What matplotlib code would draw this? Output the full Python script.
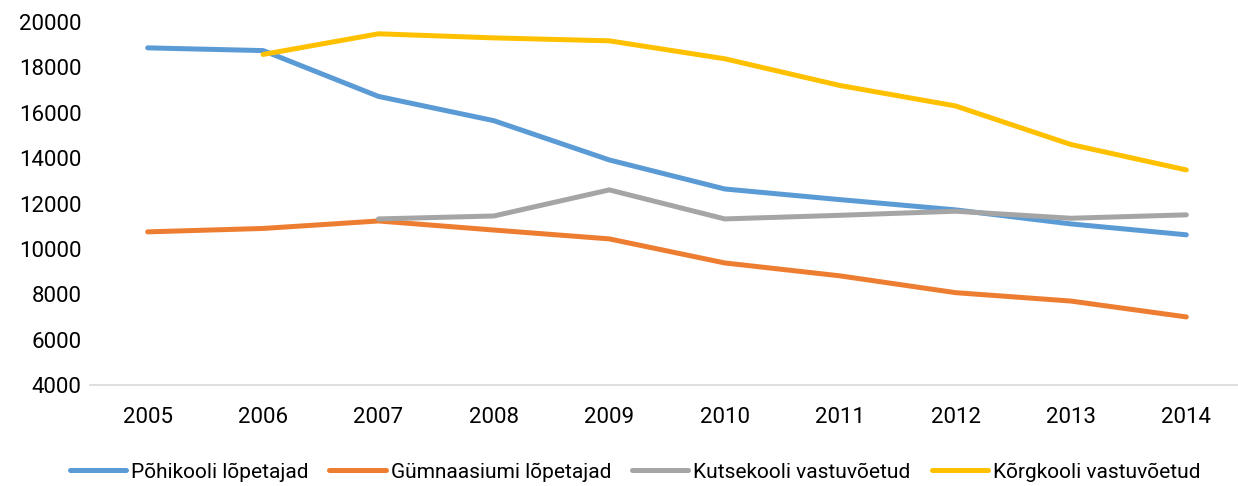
import matplotlib.pyplot as plt
import numpy as np

years = ["2005", "2006", "2007", "2008", "2009", "2010", "2011", "2012", "2013", "2014"]

pohikool = [18860, 18740, 16720, 15650, 13920, 12640, 12170, 11720, 11100, 10620]
gumnaasium = [10750, 10900, 11230, 10830, 10440, 9380, 8810, 8070, 7700, 7000]
kutsekool = [None, None, 11320, 11450, 12600, 11320, 11480, 11660, 11350, 11500]
korgkool = [None, 18570, 19480, 19300, 19170, 18380, 17200, 16300, 14600, 13480]

series_names = [
    "Põhikooli lõpetajad",
    "Gümnaasiumi lõpetajad",
    "Kutsekooli vastuvõetud",
    "Kõrgkooli vastuvõetud",
]
colors = ["#5B9BD5", "#ED7D31", "#A5A5A5", "#FFC000"]

plt.rcParams["font.family"] = ["Roboto", "DejaVu Sans"]

fig = plt.figure(figsize=(12.38, 4.86), dpi=100)
ax = fig.add_axes([90 / 1238, 1 - 385 / 486, 1154 / 1238, (385 - 22) / 486])

x = np.arange(len(years))
for vals, name, col in zip([pohikool, gumnaasium, kutsekool, korgkool], series_names, colors):
    y = np.array([np.nan if v is None else v for v in vals], dtype=float)
    ax.plot(x, y, color=col, linewidth=3.6, solid_capstyle="round", label=name)

ax.set_xlim(-0.5, len(years) - 0.5)
ax.set_ylim(4000, 20000)
ax.set_yticks(np.arange(4000, 20001, 2000))
ax.set_xticks(x)
ax.set_xticklabels(years)

for side in ["top", "right", "left"]:
    ax.spines[side].set_visible(False)
ax.spines["bottom"].set_color("#D9D9D9")
ax.spines["bottom"].set_linewidth(1.2)
ax.tick_params(axis="both", length=0, labelsize=16, colors="black")
ax.tick_params(axis="x", pad=16)
ax.tick_params(axis="y", pad=6)

ax.legend(
    loc="center",
    bbox_to_anchor=((635 - 90) / 1154, -(472 - 385) / 363),
    ncol=4,
    frameon=False,
    fontsize=15,
    handlelength=2.7,
    handletextpad=0.25,
    columnspacing=1.0,
    borderpad=0.0,
)

fig.savefig("out.png", dpi=100)
